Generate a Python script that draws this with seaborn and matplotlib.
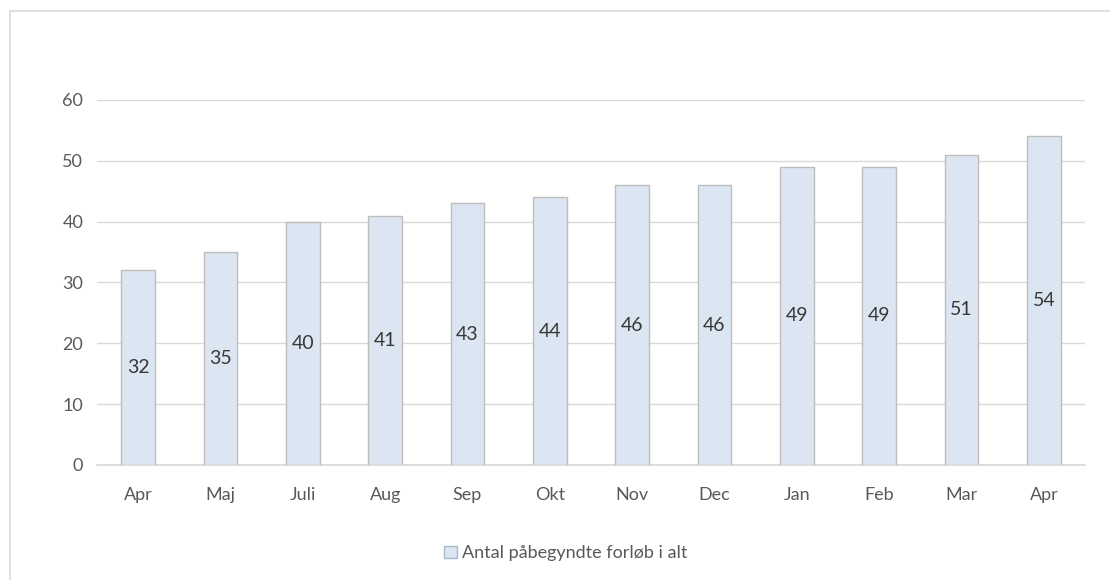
import matplotlib
matplotlib.use("Agg")
import matplotlib.pyplot as plt
import seaborn as sns
from matplotlib.patches import Patch, Rectangle

months = ["Apr", "Maj", "Juli", "Aug", "Sep", "Okt", "Nov", "Dec", "Jan", "Feb", "Mar", "Apr"]
values = [32, 35, 40, 41, 43, 44, 46, 46, 49, 49, 51, 54]
series_name = "Antal påbegyndte forløb i alt"

bar_color = "#dce6f2"
edge_color = "#bdbdbd"
grid_color = "#d9d9d9"
text_color = "#595959"

sns.set_theme(style="white")
plt.rcParams["font.family"] = ["Lato", "DejaVu Sans"]

fig = plt.figure(figsize=(11.1, 5.8), dpi=100)
ax = fig.add_axes([0.0874, 0.1983, 0.8901, 0.6293])

# outer chart frame (cut off on right and bottom)
fig.patches.append(Rectangle((10 / 1110, -0.1), 1.2, 1 - 11 / 580 + 0.1,
                             transform=fig.transFigure, fill=False,
                             edgecolor="#d9d9d9", linewidth=1.2))

positions = list(range(len(values)))
sns.barplot(x=positions, y=values, color=bar_color, edgecolor=edge_color,
            linewidth=1, width=0.41, saturation=1, ax=ax, zorder=3)

ax.bar_label(ax.containers[0], label_type="center", fontsize=14, color="#383838")

ax.set_ylim(0, 60)
ax.set_yticks(range(0, 61, 10))
ax.set_xlim(-0.5, len(values) - 0.5)
ax.set_xticks(positions)
ax.set_xticklabels(months)
ax.set_xlabel("")
ax.set_ylabel("")
ax.yaxis.grid(True, color=grid_color, linewidth=1)
ax.set_axisbelow(True)
for side in ["top", "right", "left"]:
    ax.spines[side].set_visible(False)
ax.spines["bottom"].set_color(grid_color)
ax.tick_params(axis="both", length=0, labelsize=13, colors=text_color)
ax.tick_params(axis="x", pad=16)
ax.tick_params(axis="y", pad=10)

handle = Patch(facecolor=bar_color, edgecolor="#aab8cc", linewidth=1)
fig.legend([handle], [series_name], loc="center", bbox_to_anchor=(0.51, 0.046),
           frameon=False, fontsize=13, labelcolor=text_color,
           handlelength=0.7, handleheight=0.7, handletextpad=0.3)

fig.savefig("out.png", dpi=100)
